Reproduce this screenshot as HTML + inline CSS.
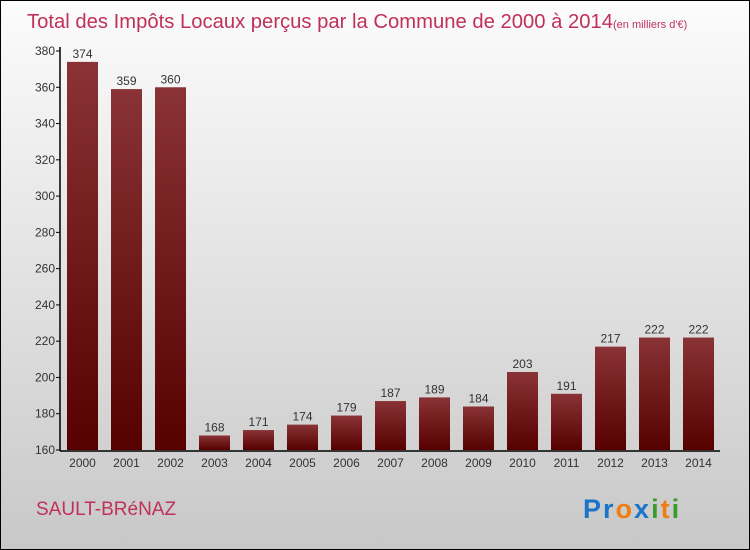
<!DOCTYPE html>
<html><head><meta charset="utf-8"><style>
body{margin:0}
#c{position:relative;width:748px;height:548px;border:1px solid #000;background:linear-gradient(#fcfcfc,#c8c8c8);overflow:hidden;font-family:"Liberation Sans",sans-serif}
</style></head><body>
<div id="c">
<svg id="s" width="748" height="548" style="position:absolute;left:0;top:0">
<defs><linearGradient id="g" x1="0" y1="0" x2="0" y2="1"><stop offset="0" stop-color="#8a3336"/><stop offset="1" stop-color="#560000"/></linearGradient></defs>
<text x="26" y="27" font-size="20" fill="#c0305a"><tspan textLength="586" lengthAdjust="spacingAndGlyphs">Total des Impôts Locaux perçus par la Commune de 2000 à 2014</tspan><tspan font-size="11">(en milliers d'€)</tspan></text>
<text x="35" y="514" font-size="19" fill="#c0305a">SAULT-BRéNAZ</text>
<text x="582" y="517" font-size="27" font-weight="bold" letter-spacing="2"><tspan fill="#1a74c8">Pr</tspan><tspan fill="#ef7d12">o</tspan><tspan fill="#1a74c8">x</tspan><tspan fill="#3a9a2a">i</tspan><tspan fill="#ef7d12">t</tspan><tspan fill="#3a9a2a">i</tspan></text>
<g id="plot"></g>
</svg>
</div>
<script>
const categories=["2000","2001","2002","2003","2004","2005","2006","2007","2008","2009","2010","2011","2012","2013","2014"];
const values=[374,359,360,168,171,174,179,187,189,184,203,191,217,222,222];
const yTicks=[160,180,200,220,240,260,280,300,320,340,360,380];
const yMin=160,yMax=380,y0=449,y1=50,x0=59,step=44,bw=31;
const ns="http://www.w3.org/2000/svg";
const p=document.getElementById('plot');
function y(v){return y0-(v-yMin)/(yMax-yMin)*(y0-y1);}
function xc(i){return 81.5+i*step;}
function mk(t,a){const e=document.createElementNS(ns,t);for(const k in a)e.setAttribute(k,a[k]);p.appendChild(e);return e;}
yTicks.forEach(v=>{
 const l=mk('line',{x1:x0-4,x2:x0,y1:y(v),y2:y(v),stroke:'#000'});
 
 
 const t=mk('text',{x:x0-5,y:y(v)+4,'font-size':12,fill:'#333','text-anchor':'end'});t.textContent=v;
 
 
});
values.forEach((v,i)=>{
 const r=mk('rect',{x:xc(i)-bw/2,y:y(v),width:bw,height:y0-y(v),fill:'url(#g)'});
 
 
 const t=mk('text',{x:xc(i),y:y(v)-4,'font-size':12,fill:'#333','text-anchor':'middle'});t.textContent=v;
 
 
 const c=mk('text',{x:xc(i),y:466,'font-size':12,fill:'#333','text-anchor':'middle'});c.textContent=categories[i];
 
 
});
const ax=mk('line',{x1:x0,x2:x0,y1:y1-4,y2:y0+1,stroke:'#000','stroke-width':1.5});


const bx=mk('line',{x1:x0,x2:719,y1:y0+1,y2:y0+1,stroke:'#000','stroke-width':1.5});


</script>
</body></html>
